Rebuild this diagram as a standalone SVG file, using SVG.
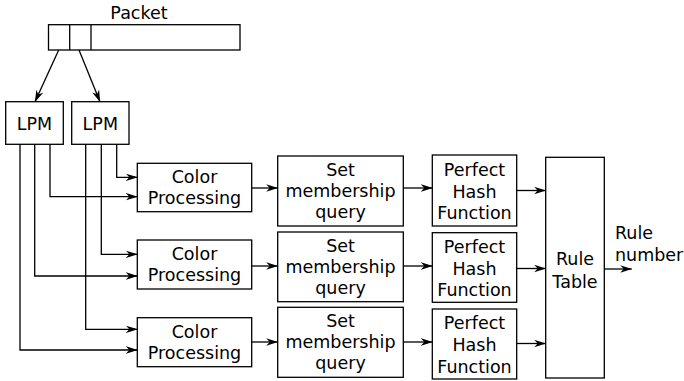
<svg xmlns="http://www.w3.org/2000/svg" width="684" height="381" viewBox="0 0 684 381">
<style>
.box{fill:#fff;stroke:#000;stroke-width:1.3}
.ln{fill:none;stroke:#000;stroke-width:1.3}
.arr{fill:none;stroke:#000;stroke-width:1.3;marker-end:url(#ah)}
text{font-family:"DejaVu Sans","Liberation Sans",sans-serif;font-size:17.5px;fill:#000;text-anchor:middle}
</style>
<defs>
<marker id="ah" viewBox="0 0 12 8" refX="11.5" refY="4" markerWidth="12" markerHeight="8" markerUnits="userSpaceOnUse" orient="auto">
<path d="M0,0.3 L12,4 L0,7.7 L3.5,4 z" fill="#000"/>
</marker>
</defs>
<rect width="684" height="381" fill="#fff"/>
<g id="packet">
<rect class="box" x="48.5" y="24.7" width="191.5" height="25.3"/>
<line class="ln" x1="69.7" y1="24.7" x2="69.7" y2="50"/>
<line class="ln" x1="91" y1="24.7" x2="91" y2="50"/>
<text x="139" y="18.7">Packet</text>
</g>
<g id="lpm1">
<rect class="box" x="5.7" y="101.7" width="57.6" height="42.6"/>
<text x="34.5" y="130">LPM</text>
</g>
<g id="lpm2">
<rect class="box" x="71.7" y="101.7" width="57.3" height="42.6"/>
<text x="100.3" y="130">LPM</text>
</g>
<g id="color1">
<rect class="box" x="137.3" y="163.3" width="114.4" height="48.4"/>
<text x="194.5" y="183.3">Color</text>
<text x="194.5" y="204.3">Processing</text>
</g>
<g id="color2">
<rect class="box" x="137.3" y="240" width="114.4" height="49"/>
<text x="194.5" y="260.3">Color</text>
<text x="194.5" y="281.3">Processing</text>
</g>
<g id="color3">
<rect class="box" x="137.3" y="317.7" width="114.4" height="49"/>
<text x="194.5" y="338">Color</text>
<text x="194.5" y="359">Processing</text>
</g>
<g id="set1">
<rect class="box" x="277.7" y="156" width="125.6" height="70"/>
<text x="340.5" y="175.5">Set</text>
<text x="340.5" y="196.5">membership</text>
<text x="340.5" y="217.5">query</text>
</g>
<g id="set2">
<rect class="box" x="277.7" y="232" width="125.6" height="69.7"/>
<text x="340.5" y="251.5">Set</text>
<text x="340.5" y="272.5">membership</text>
<text x="340.5" y="293.5">query</text>
</g>
<g id="set3">
<rect class="box" x="277.7" y="307.3" width="125.6" height="70"/>
<text x="340.5" y="326.8">Set</text>
<text x="340.5" y="347.8">membership</text>
<text x="340.5" y="368.8">query</text>
</g>
<g id="hash1">
<rect class="box" x="432.3" y="155" width="84.4" height="71"/>
<text x="474.5" y="175.5">Perfect</text>
<text x="474.5" y="197.5">Hash</text>
<text x="474.5" y="219">Function</text>
</g>
<g id="hash2">
<rect class="box" x="432.3" y="232.7" width="84.4" height="69.6"/>
<text x="474.5" y="252.5">Perfect</text>
<text x="474.5" y="274.5">Hash</text>
<text x="474.5" y="296">Function</text>
</g>
<g id="hash3">
<rect class="box" x="432.3" y="309" width="84.4" height="70"/>
<text x="474.5" y="329">Perfect</text>
<text x="474.5" y="351">Hash</text>
<text x="474.5" y="372.5">Function</text>
</g>
<g id="ruletable">
<rect class="box" x="545.7" y="157.3" width="58.6" height="220.7"/>
<text x="575" y="265">Rule</text>
<text x="575" y="287.5">Table</text>
</g>
<g id="output">
<text x="615" y="239" style="text-anchor:start">Rule</text>
<text x="615" y="260.7" style="text-anchor:start">number</text>
</g>
<g id="connectors">
<line class="arr" x1="58.7" y1="50" x2="35" y2="101.7"/>
<line class="arr" x1="79" y1="50" x2="100" y2="101.7"/>
<polyline class="arr" points="50,144.3 50,196.7 137.3,196.7"/>
<polyline class="arr" points="34.7,144.3 34.7,276 137.3,276"/>
<polyline class="arr" points="20,144.3 20,350 137.3,350"/>
<polyline class="arr" points="116.7,144.3 116.7,177.3 137.3,177.3"/>
<polyline class="arr" points="101.3,144.3 101.3,254.3 137.3,254.3"/>
<polyline class="arr" points="85.7,144.3 85.7,329.3 137.3,329.3"/>
<line class="arr" x1="251.7" y1="188" x2="277.7" y2="188"/>
<line class="arr" x1="251.7" y1="266" x2="277.7" y2="266"/>
<line class="arr" x1="251.7" y1="342" x2="277.7" y2="342"/>
<line class="arr" x1="403.3" y1="188" x2="432.3" y2="188"/>
<line class="arr" x1="403.3" y1="266" x2="432.3" y2="266"/>
<line class="arr" x1="403.3" y1="342" x2="432.3" y2="342"/>
<line class="arr" x1="516.7" y1="190.5" x2="545.7" y2="190.5"/>
<line class="arr" x1="516.7" y1="268.5" x2="545.7" y2="268.5"/>
<line class="arr" x1="516.7" y1="343.5" x2="545.7" y2="343.5"/>
<line class="arr" x1="604.3" y1="269" x2="631.7" y2="269"/>
</g>
</svg>
